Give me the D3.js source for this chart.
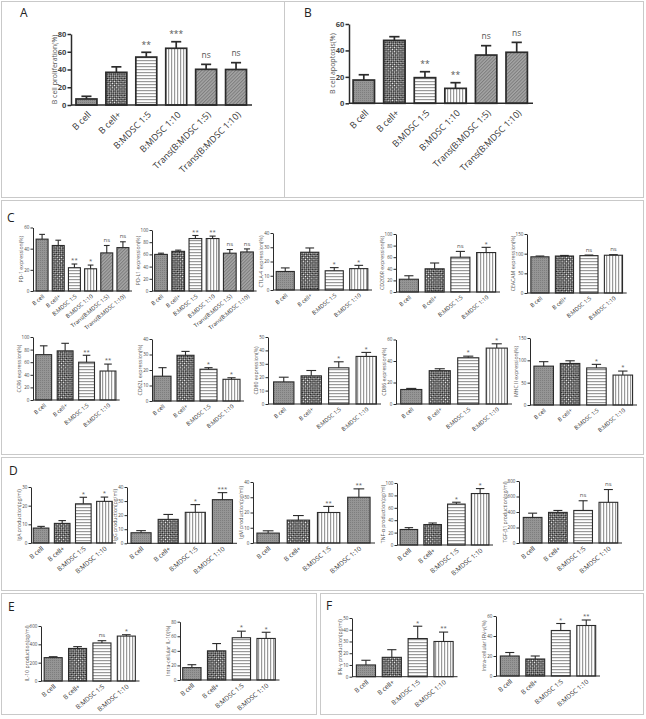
<!DOCTYPE html>
<html><head><meta charset="utf-8">
<script src="https://cdn.jsdelivr.net/npm/d3@7"></script>
<style>body{margin:0;background:#fff}svg{display:block}</style>
</head><body><svg id="fig" width="646" height="719"></svg>
<script>
// ---------------- DATA ----------------
const groups6 = ["B cell","B cell+","B:MDSC 1:5","B:MDSC 1:10","Trans(B:MDSC 1:5)","Trans(B:MDSC 1:10)"];
const groups4 = groups6.slice(0,4);

const prolifMean = [6.8, 36.8, 54, 63.9, 40.2, 40];
const prolifSem  = [3, 6.2, 5.4, 7.4, 5.6, 7.7];
const prolifAnn  = ["", "", "**", "***", "ns", "ns"];
const apopMean = [17.6, 47.6, 19.4, 11.3, 36.5, 38.6];
const apopSem  = [4, 2.8, 4.5, 4.3, 7.1, 7.5];
const apopAnn  = ["", "", "**", "**", "ns", "ns"];

const pd1Mean = [49, 43, 22, 21, 36, 41];
const pd1Sem  = [4.5, 5, 3.5, 3.5, 7, 5.5];
const pd1Ann  = ["", "", "**", "*", "ns", "ns"];
const pdl1Mean = [60, 65, 86, 86, 62, 64];
const pdl1Sem  = [2, 2, 5, 4, 6, 5];
const pdl1Ann  = ["", "", "**", "**", "ns", "ns"];
const ctla4Mean = [13, 26.5, 13.5, 15];
const ctla4Sem  = [2.5, 3, 2.2, 2.3];
const ctla4Ann  = ["", "", "*", "*"];
const cd200rMean = [22, 40, 60, 68];
const cd200rSem  = [6, 10, 10, 9];
const cd200rAnn  = ["", "", "ns", "*"];
const ceacamMean = [92, 94, 95, 96];
const ceacamSem  = [2, 1.5, 1.5, 1.5];
const ceacamAnn  = ["", "", "ns", "ns"];
const ccr6Mean = [72, 78, 60, 46];
const ccr6Sem  = [14, 12, 11, 11];
const ccr6Ann  = ["", "", "**", "**"];
const cd62lMean = [16, 29.5, 20.5, 14];
const cd62lSem  = [5.5, 2.5, 1, 1];
const cd62lAnn  = ["", "", "*", "*"];
const cd80Mean = [16.5, 21, 27, 35.5];
const cd80Sem  = [3.5, 4, 4.5, 3];
const cd80Ann  = ["", "", "*", "*"];
const cd86Mean = [13.5, 31, 43, 52];
const cd86Sem  = [1, 1.8, 1.5, 4];
const cd86Ann  = ["", "", "*", "*"];
const mhc2Mean = [87, 93, 83, 67];
const mhc2Sem  = [10, 6, 8, 9];
const mhc2Ann  = ["", "", "*", "*"];

const igaMean = [8, 10.5, 21, 22.3];
const igaSem  = [0.9, 1.5, 3.5, 2.3];
const igaAnn  = ["", "", "*", "*"];
const iggMean = [7.5, 17, 22, 31];
const iggSem  = [1.5, 3.5, 5.5, 5];
const iggAnn  = ["", "", "*", "***"];
const igmMean = [6.5, 15, 20, 30];
const igmSem  = [1.5, 3, 4, 5.5];
const igmAnn  = ["", "", "**", "**"];
const tnfMean = [25, 33, 66, 83];
const tnfSem  = [3, 2.5, 3, 8];
const tnfAnn  = ["", "", "*", "*"];
const tgfMean = [330, 395, 420, 525];
const tgfSem  = [55, 25, 125, 165];
const tgfAnn  = ["", "", "ns", "ns"];

const il10Mean = [255, 355, 415, 490];
const il10Sem  = [10, 20, 25, 15];
const il10Ann  = ["", "", "ns", "*"];
const il10iMean = [17, 40, 58, 57];
const il10iSem  = [4, 10, 9, 8.5];
const il10iAnn  = ["", "", "*", "*"];
const ifngMean = [10, 16.5, 32.5, 30];
const ifngSem  = [4, 6.5, 10.5, 8];
const ifngAnn  = ["", "", "*", "**"];
const ifngiMean = [20, 17, 45.5, 50.5];
const ifngiSem  = [3.5, 3, 7, 5.5];
const ifngiAnn  = ["", "", "*", "**"];

const ticks0to80by20 = [0, 20, 40, 60, 80];
const ticks0to60by20 = [0, 20, 40, 60];
const ticks0to100by20 = [0, 20, 40, 60, 80, 100];
const ticks0to40by10 = [0, 10, 20, 30, 40];
const ticks0to30by10 = [0, 10, 20, 30];
const ticks0to50by10 = [0, 10, 20, 30, 40, 50];
const ticks0to150by50 = [0, 50, 100, 150];
const ticks0to800by200 = [0, 200, 400, 600, 800];
const ticks0to600by200 = [0, 200, 400, 600];

// ---------------- STYLE / LAYOUT ----------------
const FONT = "'Open Sans', 'Liberation Sans', sans-serif";
const pat6 = ["pGray","pCheck","pH","pV","pDiag","pDiag"];
const pat4 = pat6.slice(0,4);
const patIg = ["pGray","pCheck","pV","pGray"];

const styles = {
  big:   {fsTick:7.5, tickW:700, fsTitle:7, fsLab:9, fsAnn:8.5, sw:1.7, aw:1.5, tick:3.5, ang:45, lx:3, ly:8, annGap:9, pi:0.3},
  small: {fsTick:4.5, tickW:400, fsTitle:5.2, fsLab:5.6, fsAnn:6, sw:1.1, aw:1, tick:2.5, ang:40, lx:1.5, ly:4.5, annGap:5, pi:0.26},
  med:   {fsTick:4.5, tickW:400, fsTitle:5.1, fsLab:6.5, fsAnn:6, sw:1.1, aw:1, tick:2.5, ang:40, lx:1.5, ly:4.5, annGap:5, pi:0.26}
};

const charts = [
  {style:"big", title:"B cell proliferation(%)", cats:groups6, mean:prolifMean, sem:prolifSem, ann:prolifAnn, ticks:ticks0to80by20, pat:pat6, L:{ax:71, x0:71.5, x1:251, base:105, top:34}},
  {style:"big", title:"B cell apoptosis(%)", cats:groups6, mean:apopMean, sem:apopSem, ann:apopAnn, ticks:ticks0to60by20, pat:pat6, L:{ax:349, x0:348.5, x1:532, base:103.3, top:24}},

  {style:"small", title:"PD-1 expression(%)", cats:groups6, mean:pd1Mean, sem:pd1Sem, ann:pd1Ann, ticks:ticks0to60by20, pat:pat6, L:{ax:33, x0:34, x1:131, base:291, top:227.5}},
  {style:"small", title:"PD-L1 expression(%)", cats:groups6, mean:pdl1Mean, sem:pdl1Sem, ann:pdl1Ann, ticks:ticks0to100by20, pat:pat6, L:{ax:152, x0:152.4, x1:255.6, base:291, top:230}},
  {style:"small", title:"CTLA-4 expression(%)", cats:groups4, mean:ctla4Mean, sem:ctla4Sem, ann:ctla4Ann, ticks:ticks0to40by10, pat:pat4, L:{ax:273, x0:273, x1:371, base:290, top:233}},
  {style:"small", title:"CD200R expression(%)", cats:groups4, mean:cd200rMean, sem:cd200rSem, ann:cd200rAnn, ticks:ticks0to100by20, pat:pat4, L:{ax:396, x0:396, x1:499, base:292, top:234}},
  {style:"small", title:"CEACAM expression(%)", cats:groups4, mean:ceacamMean, sem:ceacamSem, ann:ceacamAnn, ticks:ticks0to150by50, pat:pat4, L:{ax:527, x0:527.7, x1:625.7, base:293, top:234}},

  {style:"small", title:"CCR6 expression(%)", cats:groups4, mean:ccr6Mean, sem:ccr6Sem, ann:ccr6Ann, ticks:ticks0to100by20, pat:pat4, L:{ax:33, x0:33, x1:118.7, base:400, top:337}},
  {style:"small", title:"CD62L expression(%)", cats:groups4, mean:cd62lMean, sem:cd62lSem, ann:cd62lAnn, ticks:ticks0to40by10, pat:pat4, L:{ax:152, x0:151, x1:243, base:401, top:339}},
  {style:"small", title:"CD80 expression(%)", cats:groups4, mean:cd80Mean, sem:cd80Sem, ann:cd80Ann, ticks:ticks0to50by10, pat:pat4, L:{ax:268, x0:270, x1:380, base:404, top:337}},
  {style:"small", title:"CD86 expression(%)", cats:groups4, mean:cd86Mean, sem:cd86Sem, ann:cd86Ann, ticks:ticks0to60by20, pat:pat4, L:{ax:396, x0:397, x1:511, base:404, top:339.5}},
  {style:"small", title:"MHC II expression(%)", cats:groups4, mean:mhc2Mean, sem:mhc2Sem, ann:mhc2Ann, ticks:ticks0to150by50, pat:pat4, L:{ax:530, x0:530.5, x1:636, base:405, top:338}},

  {style:"med", title:"IgA production(pg/ml)", cats:groups4, mean:igaMean, sem:igaSem, ann:igaAnn, ticks:ticks0to30by10, pat:pat4, L:{ax:31, x0:30.5, x1:115, base:543, top:487}},
  {style:"med", title:"IgG production(pg/ml)", cats:groups4, mean:iggMean, sem:iggSem, ann:iggAnn, ticks:ticks0to40by10, pat:patIg, L:{ax:127, x0:127.5, x1:236, base:543.3, top:487}},
  {style:"med", title:"IgM production(pg/ml)", cats:groups4, mean:igmMean, sem:igmSem, ann:igmAnn, ticks:ticks0to40by10, pat:patIg, L:{ax:253, x0:253, x1:374, base:543, top:482}},
  {style:"med", title:"TNF-α production(pg/ml)", cats:groups4, mean:tnfMean, sem:tnfSem, ann:tnfAnn, ticks:ticks0to100by20, pat:pat4, L:{ax:397, x0:397, x1:492, base:545, top:483}},
  {style:"med", title:"TGF-β1 production(pg/ml)", cats:groups4, mean:tgfMean, sem:tgfSem, ann:tgfAnn, ticks:ticks0to800by200, pat:pat4, L:{ax:519, x0:520, x1:621, base:543, top:481}},

  {style:"med", title:"IL-10 production(pg/ml)", cats:groups4, mean:il10Mean, sem:il10Sem, ann:il10Ann, ticks:ticks0to600by200, pat:pat4, L:{ax:41, x0:41, x1:138.5, base:681, top:626}},
  {style:"med", title:"Intra-cellular IL-10(%)", cats:groups4, mean:il10iMean, sem:il10iSem, ann:il10iAnn, ticks:ticks0to80by20, pat:pat4, L:{ax:180, x0:179.5, x1:278.5, base:680, top:621.7}},
  {style:"med", title:"IFN-γ production(pg/ml)", cats:groups4, mean:ifngMean, sem:ifngSem, ann:ifngAnn, ticks:ticks0to50by10, pat:pat4, L:{ax:352, x0:353, x1:456.5, base:676.7, top:618}},
  {style:"med", title:"Intra-cellular IFN-γ(%)", cats:groups4, mean:ifngiMean, sem:ifngiSem, ann:ifngiAnn, ticks:ticks0to60by20, pat:pat4, L:{ax:496, x0:497, x1:599, base:676, top:616}}
];

const panels = [
  {label:"A", x:20, y:17, box:[1,1,284,197]},
  {label:"B", x:304, y:17, box:[284,1,643,197]},
  {label:"C", x:7, y:222, box:[1,200,643,454]},
  {label:"D", x:9, y:475, box:[1,457,643,590]},
  {label:"E", x:8, y:611, box:[1,593,316,714]},
  {label:"F", x:326, y:610, box:[320,593,643,714]}
];

// ---------------- DRAW ----------------
const svg = d3.select("#fig");
svg.append("rect").attr("width",646).attr("height",719).attr("fill","#fff");
const defs = svg.append("defs");

function makePattern(id, w, h, bg, rects, rot) {
  const p = defs.append("pattern").attr("id", id).attr("patternUnits","userSpaceOnUse")
    .attr("width", w).attr("height", h);
  if (rot) p.attr("patternTransform", `rotate(${rot})`);
  p.append("rect").attr("width", w).attr("height", h).attr("fill", bg);
  rects.forEach(r => p.append("rect").attr("x", r[0]).attr("y", r[1]).attr("width", r[2]).attr("height", r[3]).attr("fill", r[4]));
}
makePattern("pGray", 2, 2, "#959595", [[0,0,1,1,"#7e7e7e"]]);
makePattern("pCheck", 3, 3, "#1e1e1e", [[0,0,1.3,1.3,"#ffffff"],[1.5,1.5,1.3,1.3,"#ffffff"]], 45);
makePattern("pH", 3, 3, "#ffffff", [[0,0,3,1.2,"#999999"]]);
makePattern("pV", 3, 3, "#ffffff", [[0,0,1.2,3,"#999999"]]);
makePattern("pDiag", 2.4, 2.4, "#a6a6a6", [[0,0,1,2.4,"#7c7c7c"]], 45);

panels.forEach(p => {
  const b = p.box;
  svg.append("rect").attr("x", b[0]+0.5).attr("y", b[1]+0.5).attr("width", b[2]-b[0]).attr("height", b[3]-b[1])
    .attr("fill","none").attr("stroke","#c9c9c9").attr("stroke-width",1);
  svg.append("text").attr("x", p.x).attr("y", p.y).text(p.label)
    .attr("font-family", FONT).attr("font-size", 12).attr("fill","#222");
});

const INK = "#2b2b2b";

function drawChart(c) {
  const S = styles[c.style], L = c.L;
  const g = svg.append("g");
  const x = d3.scaleBand().domain(c.cats).range([L.x0, L.x1]).paddingInner(S.pi).paddingOuter(S.pi/2);
  const y = d3.scaleLinear().domain([0, c.ticks[c.ticks.length-1]]).range([L.base, L.top]);
  const bw = x.bandwidth();

  g.selectAll("rect.bar").data(c.mean).join("rect").attr("class","bar")
    .attr("x", (d,i) => x(c.cats[i])).attr("width", bw)
    .attr("y", d => y(d)).attr("height", d => L.base - y(d))
    .attr("fill", (d,i) => `url(#${c.pat[i]})`)
    .attr("stroke", INK).attr("stroke-width", S.sw);

  c.mean.forEach((m, i) => {
    const cx = x(c.cats[i]) + bw/2, yt = y(m + c.sem[i]), hw = bw*0.24;
    g.append("line").attr("x1",cx).attr("x2",cx).attr("y1",y(m)).attr("y2",yt).attr("stroke",INK).attr("stroke-width",S.sw);
    g.append("line").attr("x1",cx-hw).attr("x2",cx+hw).attr("y1",yt).attr("y2",yt).attr("stroke",INK).attr("stroke-width",S.sw);
    const a = c.ann[i];
    if (a) {
      const k = a.indexOf("*") >= 0 ? 0.55 : 0.27;
      g.append("text").attr("x", cx).attr("y", yt - S.annGap + k*S.fsAnn).attr("text-anchor","middle")
        .attr("font-family",FONT).attr("font-size",S.fsAnn).attr("fill","#555").text(a);
    }
    g.append("text").attr("text-anchor","end").attr("dy","0.35em")
      .attr("transform", `translate(${cx + S.lx},${L.base + S.ly}) rotate(${-S.ang})`)
      .attr("font-family",FONT).attr("font-size",S.fsLab).attr("fill","#333").text(c.cats[i]);
  });

  const ya = d3.axisLeft(y).tickValues(c.ticks).tickSize(S.tick).tickSizeOuter(0).tickPadding(1.2);
  const ag = g.append("g").attr("transform", `translate(${L.ax},0)`).call(ya)
    .attr("font-family", FONT).attr("font-size", S.fsTick);
  ag.select(".domain").attr("stroke", INK).attr("stroke-width", S.aw);
  ag.selectAll(".tick line").attr("stroke", INK).attr("stroke-width", S.aw);
  ag.selectAll(".tick text").attr("fill","#444").attr("font-weight", S.tickW);

  g.append("line").attr("x1", L.ax).attr("x2", L.x1 + 1).attr("y1", L.base).attr("y2", L.base)
    .attr("stroke", INK).attr("stroke-width", S.aw);

  const digits = String(c.ticks[c.ticks.length-1]).length;
  const off = S.tick + 1.2 + digits*S.fsTick*0.57 + S.fsTitle*0.5;
  g.append("text").attr("text-anchor","middle").attr("dy","0.35em")
    .attr("transform", `translate(${L.ax - off},${(L.base + L.top)/2}) rotate(-90)`)
    .attr("font-family",FONT).attr("font-size",S.fsTitle).attr("fill","#555").text(c.title);
}

charts.forEach(drawChart);
</script>
</body></html>
